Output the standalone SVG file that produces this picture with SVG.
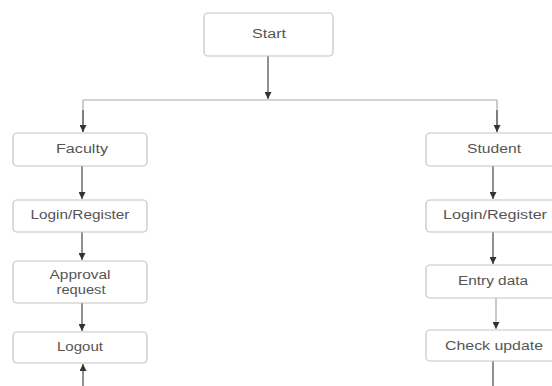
<svg xmlns="http://www.w3.org/2000/svg" width="552" height="386" viewBox="0 0 552 386">
<defs>
<marker id="ah" viewBox="0 0 10 10" refX="10" refY="5" markerWidth="7" markerHeight="7" markerUnits="userSpaceOnUse" orient="auto">
<path d="M0,0 L10,5 L0,10 z" fill="#333"/>
</marker>
</defs>
<style>
.box{fill:#fff;stroke:#c4c4c4;stroke-width:1.2}
.t{font-family:"Liberation Sans",Arial,sans-serif;font-size:12px;fill:#555;text-anchor:middle}
.ln{fill:none;stroke:#555;stroke-width:1.3}
.hl{fill:none;stroke:#a8a8a8;stroke-width:1.2}
</style>
<rect width="552" height="386" fill="#fff"/>
<g id="connectors">
<path class="hl" d="M83,100 H497"/>
<path class="hl" d="M83,100 V132"/>
<path class="hl" d="M497,100 V132"/>
<path class="ln" d="M268,56 V99" marker-end="url(#ah)"/>
<path class="ln" d="M83,110 V132" marker-end="url(#ah)"/>
<path class="ln" d="M497,110 V132" marker-end="url(#ah)"/>
<path class="ln" d="M82,166 V199" marker-end="url(#ah)"/>
<path class="ln" d="M82,232 V260" marker-end="url(#ah)"/>
<path class="ln" d="M82,303 V331" marker-end="url(#ah)"/>
<path class="ln" d="M83,386 V364" marker-end="url(#ah)"/>
<path class="ln" d="M493,166 V199" marker-end="url(#ah)"/>
<path class="ln" d="M493,232 V264" marker-end="url(#ah)"/>
<path class="hl" d="M496,298 V329" marker-end="url(#ah)"/>
<path class="ln" d="M493,361 V386"/>
</g>
<g id="start"><rect class="box" x="204" y="13" width="129" height="43" rx="4"/><text class="t" x="269" y="38" textLength="34" lengthAdjust="spacingAndGlyphs">Start</text></g>
<g id="faculty"><rect class="box" x="13" y="133" width="134" height="33" rx="4"/><text class="t" x="82" y="153" textLength="52" lengthAdjust="spacingAndGlyphs">Faculty</text></g>
<g id="f-login"><rect class="box" x="13" y="200" width="134" height="32" rx="4"/><text class="t" x="80" y="219" textLength="99" lengthAdjust="spacingAndGlyphs">Login/Register</text></g>
<g id="approval"><rect class="box" x="13" y="261" width="134" height="42" rx="4"/><text class="t" x="80" y="279" textLength="61" lengthAdjust="spacingAndGlyphs">Approval</text><text class="t" x="81" y="294" textLength="49" lengthAdjust="spacingAndGlyphs">request</text></g>
<g id="logout"><rect class="box" x="13" y="332" width="134" height="31" rx="4"/><text class="t" x="80" y="351" textLength="46" lengthAdjust="spacingAndGlyphs">Logout</text></g>
<g id="student"><rect class="box" x="426" y="133" width="136" height="33" rx="4"/><text class="t" x="494" y="153" textLength="54" lengthAdjust="spacingAndGlyphs">Student</text></g>
<g id="s-login"><rect class="box" x="426" y="200" width="136" height="32" rx="4"/><text class="t" x="495" y="219" textLength="104" lengthAdjust="spacingAndGlyphs">Login/Register</text></g>
<g id="entry"><rect class="box" x="426" y="265" width="136" height="33" rx="4"/><text class="t" x="493" y="285" textLength="70" lengthAdjust="spacingAndGlyphs">Entry data</text></g>
<g id="check"><rect class="box" x="426" y="330" width="136" height="31" rx="4"/><text class="t" x="494" y="350" textLength="98" lengthAdjust="spacingAndGlyphs">Check update</text></g>
</svg>
